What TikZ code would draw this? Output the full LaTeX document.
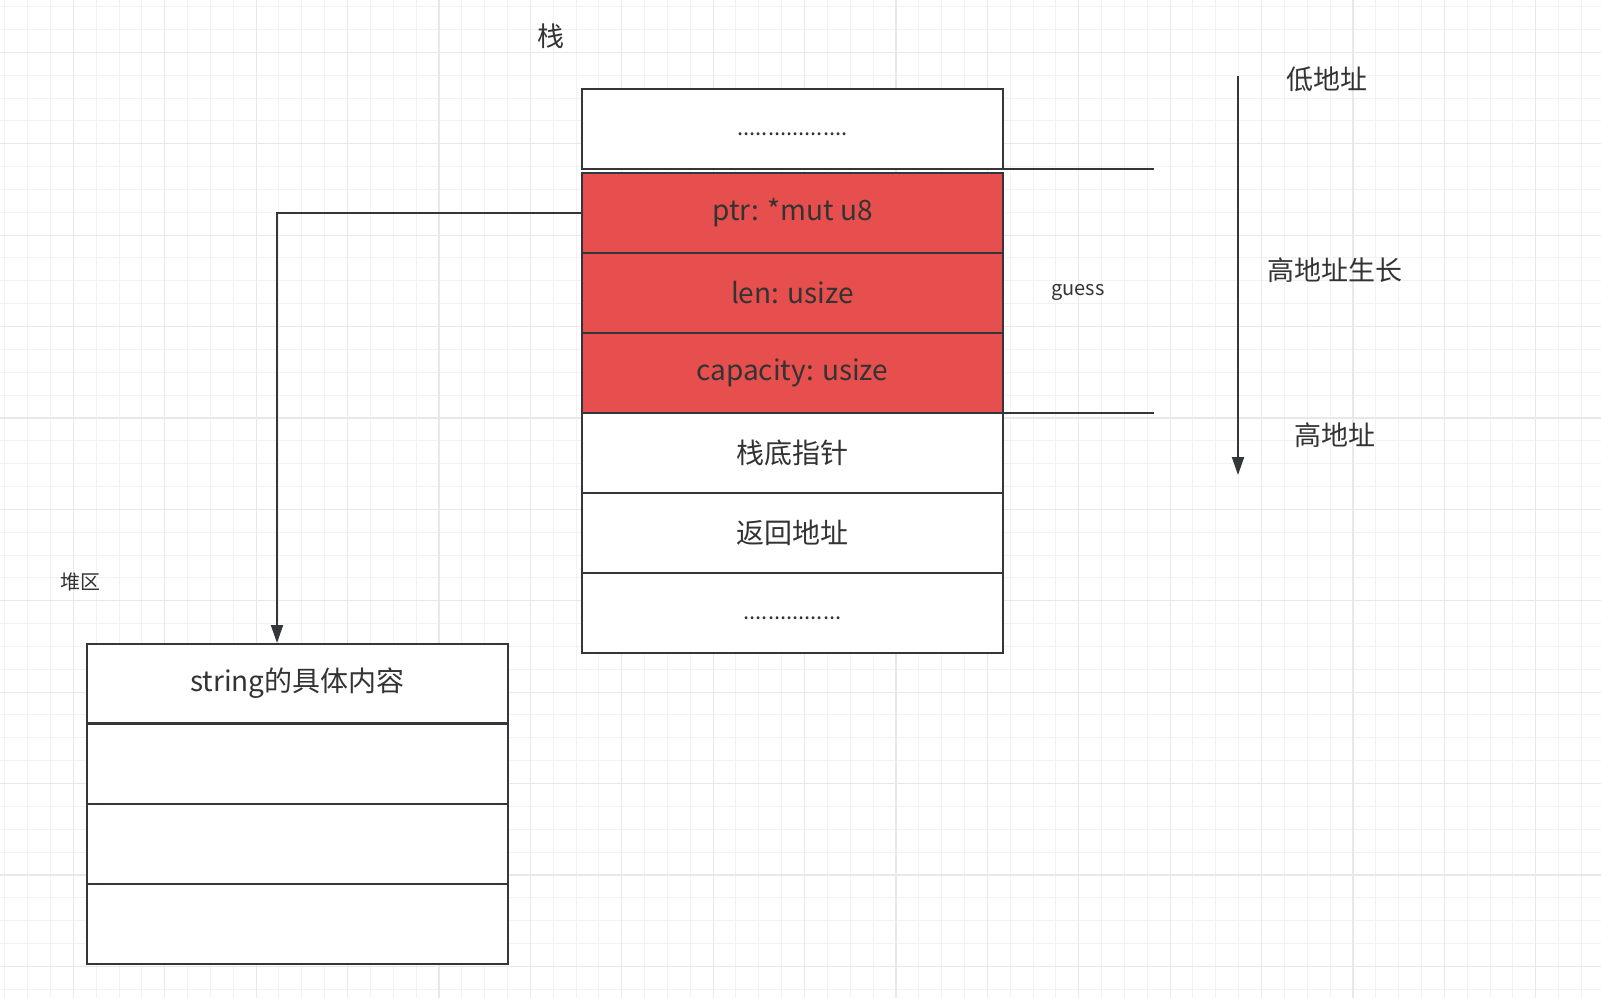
\documentclass[tikz,border=0pt]{standalone}
\usepackage{fontspec}
\setmainfont{Noto Sans CJK SC}
\usetikzlibrary{arrows.meta, positioning}
\definecolor{linec}{HTML}{33363B}
\definecolor{txtc}{HTML}{333333}
\definecolor{redfill}{HTML}{E64F4D}
\definecolor{gridminor}{HTML}{F2F2F2}
\definecolor{gridmajor}{HTML}{E8E8E8}
\newcommand{\cellfont}{\fontsize{14}{17}\selectfont}
\newcommand{\labfont}{\fontsize{13.5}{16}\selectfont}
\newcommand{\tagfont}{\fontsize{10}{12}\selectfont}
\newcommand{\dotrow}[1]{\smash{\raisebox{-3pt}{\fontsize{11}{13}\selectfont #1}}}

\begin{document}
\begin{tikzpicture}[
  x=0.5pt, y=-0.5pt,
  cell/.style={rectangle, draw=linec, line width=1pt, fill=white, minimum width=210.5pt, minimum height=40pt, inner sep=0pt, outer sep=0pt, align=center, font=\cellfont, text=txtc},
  hot/.style={cell, fill=redfill},
  lab/.style={font=\labfont, text=txtc, inner sep=0pt},
  arrow/.style={-{Triangle[length=9pt, width=6pt]}, line width=1pt, draw=linec}
]
  % background and grid
  \fill[white] (0,0) rectangle (1601,998);
  \useasboundingbox (0,0) rectangle (1601,998);
  \foreach \i in {0,...,69} \draw[gridminor, line width=0.5pt] (4.75+\i*22.85,0) -- ++(0,998);
  \foreach \j in {0,...,43} \draw[gridminor, line width=0.5pt] (0,6.6+\j*22.85) -- ++(1601,0);
  \foreach \i in {0,...,16} \draw[gridmajor, line width=0.6pt] (73.3+\i*91.4,0) -- ++(0,998);
  \foreach \j in {0,...,10} \draw[gridmajor, line width=0.6pt] (0,52.3+\j*91.4) -- ++(1601,0);

  % stack
  \node[lab] (stacklab) at (551,36) {栈};
  \node[cell] (top) at (792.5,129) {\dotrow{..................}};
  \node[hot, below=2pt of top] (ptr) {ptr: *mut u8};
  \node[hot, below=0pt of ptr] (len) {len: usize};
  \node[hot, below=0pt of len] (cap) {capacity: usize};
  \node[cell, below=0pt of cap] (base) {栈底指针};
  \node[cell, below=0pt of base] (ret) {返回地址};
  \node[cell, below=0pt of ret] (rest) {\dotrow{................}};

  \draw[linec, line width=1pt] (top.south east) -- ++(151,0);
  \draw[linec, line width=1pt] (cap.south east) -- ++(151,0);
  \node[lab, font=\tagfont] (guess) at (1078,292) {guess};

  % address direction
  \coordinate (gtop) at (1238,76);
  \coordinate (gbot) at (1238,475);
  \draw[arrow] (gtop) -- (gbot);
  \node[lab] (low) at (1327,79) {低地址};
  \node[lab] (grow) at (1335,270) {高地址生长};
  \node[lab] (high) at (1335,435) {高地址};

  % heap
  \node[lab, font=\tagfont] (heaplab) at (81,582) {堆区};
  \node[cell] (str) at (297.5,683.5) {string的具体内容};
  \node[cell, below=0pt of str] (heapa) {};
  \node[cell, below=0pt of heapa] (heapb) {};
  \node[cell, below=0pt of heapb] (heapc) {};
  \draw[linec, line width=1.5pt] (str.south west) -- (str.south east);

  % pointer into heap
  \coordinate (heapin) at (277,643);
  \draw[arrow] (ptr.west) -| (heapin);
\end{tikzpicture}
\end{document}
